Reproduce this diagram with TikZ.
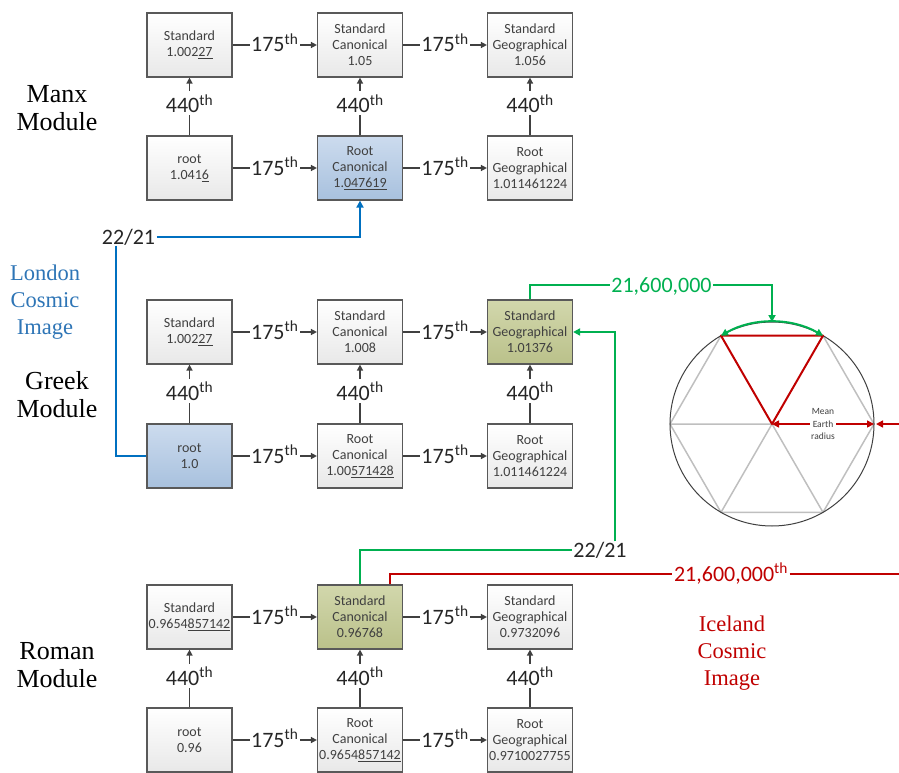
\documentclass[tikz,border=0pt]{standalone}
\usepackage{fontspec}
\setmainfont{Carlito}
\newfontfamily\modserif{Liberation Serif}
\usetikzlibrary{arrows.meta}

\definecolor{linegray}{HTML}{404040}
\definecolor{boxedge}{HTML}{595959}
\definecolor{cosmicblue}{HTML}{0070C0}
\definecolor{londonblue}{HTML}{2E75B6}
\definecolor{cosmicgreen}{HTML}{00B050}
\definecolor{cosmicred}{HTML}{C00000}
\definecolor{hexgray}{HTML}{BFBFBF}
\definecolor{bluetop}{RGB}{204,219,238}
\definecolor{bluebot}{RGB}{168,193,222}
\definecolor{olivetop}{RGB}{210,215,172}
\definecolor{olivebot}{RGB}{186,193,138}

\newcommand{\ord}[1]{#1\textsuperscript{th}}

\tikzset{
    box/.style = {draw=boxedge, line width=1.2pt, top color=white, bottom color=gray!18,
                  minimum width=85pt, minimum height=64pt, inner sep=0pt, align=center,
                  text=linegray, font=\fontsize{14}{16}\selectfont},
    bluebox/.style = {box, top color=bluetop, bottom color=bluebot},
    olivebox/.style = {box, top color=olivetop, bottom color=olivebot},
    conn/.style = {draw=linegray, line width=1.5pt, -{Triangle[length=6pt,width=6pt]}},
    lbl/.style = {fill=white, inner sep=1.5pt, text=black!85, text height=14pt, text depth=0pt,
                  font=\fontsize{22}{24}\selectfont},
    vlbl/.style = {lbl, text height=20pt, text depth=1pt, yshift=3pt},
    modlbl/.style = {align=center, font=\modserif\fontsize{26}{28}\selectfont},
    imglbl/.style = {align=center, font=\modserif\fontsize{22.5}{27}\selectfont},
    blueline/.style = {draw=cosmicblue, line width=2pt},
    greenline/.style = {draw=cosmicgreen, line width=2pt},
    redline/.style = {draw=cosmicred, line width=2pt},
    hexline/.style = {draw=hexgray, line width=1.5pt},
    tip/.tip = {Triangle[length=7pt,width=7pt]}
}

\begin{document}
\begin{tikzpicture}[x=1pt, y=-1pt]
    \useasboundingbox (0,0) rectangle (899,773);

    % Manx
    \node[box] (mSt) at (189.5,45) {Standard\\1.002\underline{27}};
    \node[box] (mSC) at (360,45) {Standard\\Canonical\\1.05};
    \node[box] (mSG) at (530,45) {Standard\\Geographical\\1.056};
    \node[box] (mRt) at (189.5,168) {root\\1.041\underline{6}};
    \node[bluebox] (mRC) at (360,168) {Root\\Canonical\\1.\underline{047619}};
    \node[box] (mRG) at (530,168) {Root\\Geographical\\1.011461224};

    % Greek
    \node[box] (gSt) at (189.5,332) {Standard\\1.002\underline{27}};
    \node[box] (gSC) at (360,332) {Standard\\Canonical\\1.008};
    \node[olivebox] (gSG) at (530,332) {Standard\\Geographical\\1.01376};
    \node[bluebox] (gRt) at (189.5,456) {root\\1.0};
    \node[box] (gRC) at (360,456) {Root\\Canonical\\1.00\underline{571428}};
    \node[box] (gRG) at (530,456) {Root\\Geographical\\1.011461224};

    % Roman
    \node[box] (rSt) at (189.5,617) {Standard\\0.9654\underline{857142}};
    \node[olivebox] (rSC) at (360,617) {Standard\\Canonical\\0.96768};
    \node[box] (rSG) at (530,617) {Standard\\Geographical\\0.9732096};
    \node[box] (rRt) at (189.5,740) {root\\0.96};
    \node[box] (rRC) at (360,740) {Root\\Canonical\\0.9654\underline{857142}};
    \node[box] (rRG) at (530,740) {Root\\Geographical\\0.9710027755};

    \foreach \m in {m,g,r} {
        \draw[conn] (\m St) -- node[lbl]{\ord{175}} (\m SC);
        \draw[conn] (\m SC) -- node[lbl]{\ord{175}} (\m SG);
        \draw[conn] (\m Rt) -- node[lbl]{\ord{175}} (\m RC);
        \draw[conn] (\m RC) -- node[lbl]{\ord{175}} (\m RG);
        \draw[conn] (\m Rt) -- node[vlbl]{\ord{440}} (\m St);
        \draw[conn] (\m RC) -- node[vlbl]{\ord{440}} (\m SC);
        \draw[conn] (\m RG) -- node[vlbl]{\ord{440}} (\m SG);
    }

    \node[modlbl] (manx) at (57,108) {Manx\\Module};
    \node[modlbl] (greek) at (57,395) {Greek\\Module};
    \node[modlbl] (roman) at (57,665) {Roman\\Module};
    \node[imglbl, text=londonblue] (london) at (45,302) {London\\Cosmic\\Image};
    \node[imglbl, text=cosmicred] (iceland) at (732,653) {Iceland\\Cosmic\\Image};

    % London 22/21
    \node[lbl] (lonRatio) at (128.5,237) {22/21};
    \draw[blueline, -tip] (lonRatio.east) -| (mRC.south);
    \draw[blueline] ([xshift=-13pt]lonRatio.south) |- (gRt.west);

    % earth circle
    \coordinate (ctr) at (772,424);
    \foreach \a/\n in {0/v0,-60/v1,-120/v2,180/v3,120/v4,60/v5}
        \path (ctr) ++(\a:102) coordinate (\n);
    \path (ctr) ++(-90:102) coordinate (arcTop);
    \draw[hexline] (v1) -- (v0) -- (v5) -- (v4) -- (v3) -- (v2);
    \draw[hexline] (v3) -- (ctr) -- (v4) (ctr) -- (v5);
    \draw[linegray, line width=1pt] (ctr) circle[radius=102];
    \draw[redline, line join=round] (ctr) -- (v2) -- (v1) -- cycle;
    \draw[greenline, tip-tip] (v2) arc[start angle=-120, end angle=-60, radius=102];
    \draw[redline, line width=1.5pt, tip-tip] (ctr) -- node[fill=white, inner sep=1pt, align=center, text=linegray,
        font=\fontsize{9.5}{12.5}\selectfont]{Mean\\Earth\\radius} (v0);
    \coordinate (edgeE) at (899,424);
    \draw[redline, line width=1.5pt, -tip] (edgeE) -- ([xshift=2pt]v0);

    % Greek geographical
    \node[lbl, text=cosmicgreen] (geoDeg) at (661.5,285) {21,600,000};
    \draw[greenline] (gSG.north) |- (geoDeg.west);
    \draw[greenline, -tip] (geoDeg.east) -| (arcTop);

    % Iceland
    \node[lbl] (iceRatio) at (600,550) {22/21};
    \draw[greenline] (rSC.north) |- (iceRatio.west);
    \draw[greenline, -tip] ([xshift=15pt]iceRatio.north) |- (gSG.east);
    \node[lbl, text=cosmicred] (iceDeg) at (731,574) {\ord{21,600,000}};
    \coordinate (edgeS) at (899,574);
    \draw[redline] ([xshift=30pt]rSC.north) |- (iceDeg.west);
    \draw[redline] (iceDeg.east) -- (edgeS);
\end{tikzpicture}
\end{document}
